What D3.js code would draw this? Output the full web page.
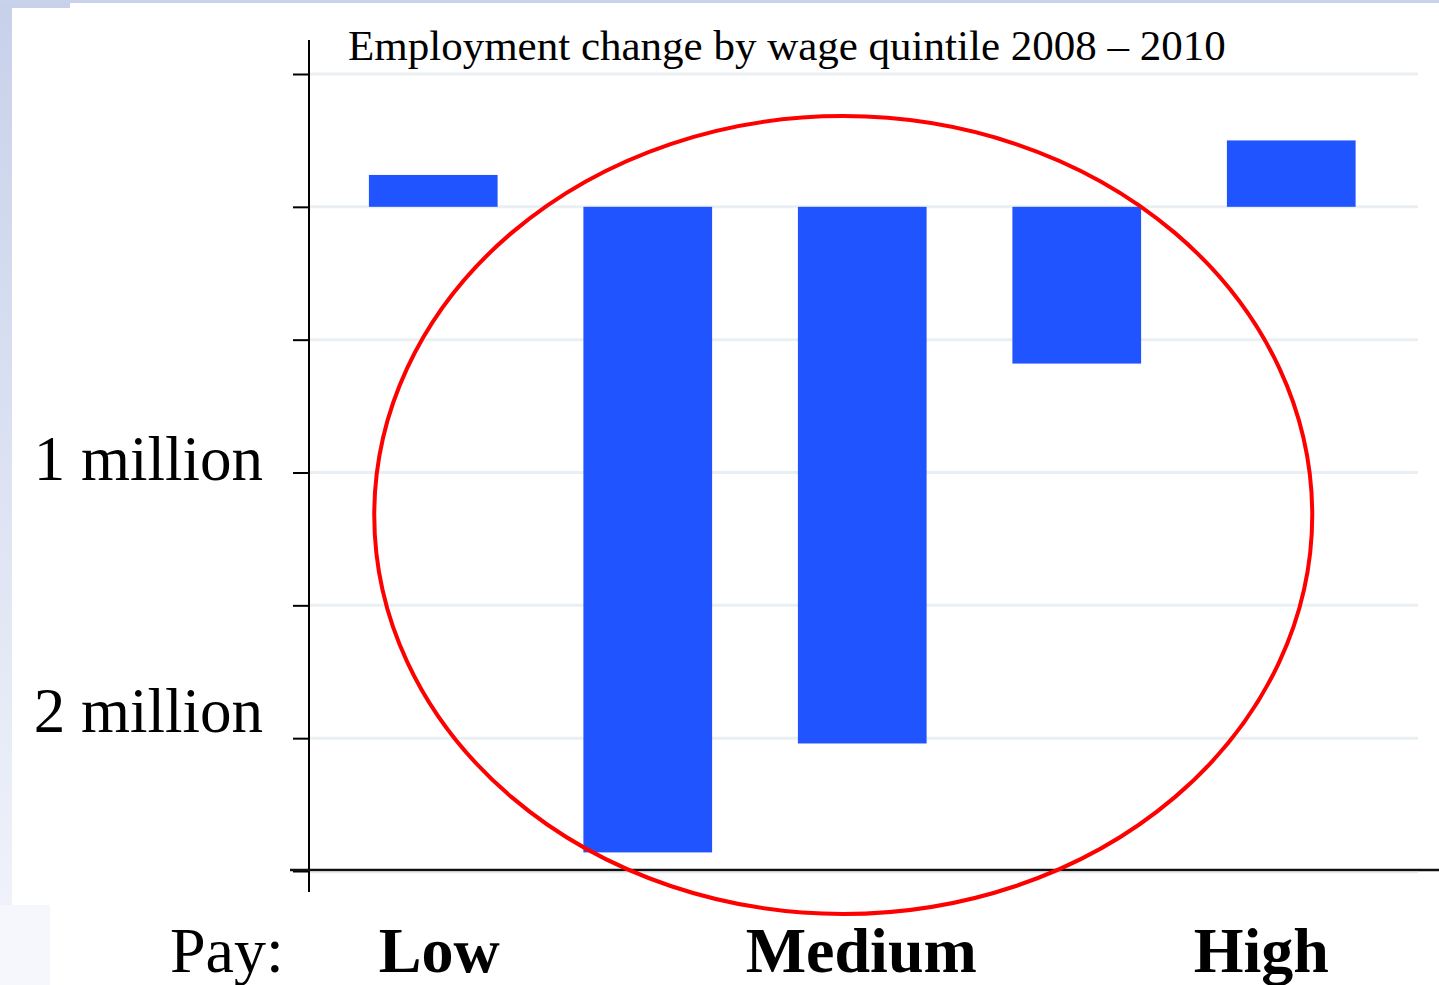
<!DOCTYPE html>
<html><head><meta charset="utf-8">
<script src="https://cdn.jsdelivr.net/npm/d3@7"></script>
<style>
html,body{margin:0;padding:0;background:#fff;overflow:hidden;}
svg{display:block;}
text{font-family:"Liberation Serif","Times New Roman",serif;fill:#000;}
</style></head>
<body>
<svg id="chart" width="1439" height="985"></svg>
<script>
// Data (millions of jobs)
const categories = ["Q1","Q2","Q3","Q4","Q5"];
const values = [0.12, -2.43, -2.02, -0.59, 0.25];
const yTicks = [-2.5, -2, -1.5, -1, -0.5, 0, 0.5];
const yTickLabels = {"-1": "1 million", "-2": "2 million"};
const payLabels = [{cat:"Q1", text:"Low"}, {cat:"Q3", text:"Medium"}, {cat:"Q5", text:"High"}];
const title = "Employment change by wage quintile 2008 \u2013 2010";

// layout tweaks (not data)
const tickLabelDy = {"-1": 7, "-2": -6};
const payLabelDx = {"Low": 6, "Medium": -1, "High": -30};

const svg = d3.select("#chart");

// slide background
const grad = svg.append("defs").append("linearGradient").attr("id","bg").attr("x1",0).attr("y1",0).attr("x2",0).attr("y2",1);
grad.append("stop").attr("offset","0%").attr("stop-color","#c7d1ea");
grad.append("stop").attr("offset","100%").attr("stop-color","#f3f5fb");
svg.append("rect").attr("x",0).attr("y",0).attr("width",1439).attr("height",985).attr("fill","url(#bg)");
svg.append("rect").attr("x",0).attr("y",0).attr("width",1439).attr("height",4).attr("fill","#c8d2ea");
svg.append("rect").attr("x",12).attr("y",8).attr("width",1427).attr("height",977).attr("fill","#fff");
svg.append("rect").attr("x",70).attr("y",3).attr("width",1369).attr("height",982).attr("fill","#fff");
svg.append("rect").attr("x",0).attr("y",905).attr("width",50).attr("height",80).attr("fill","#f6f7fc");
svg.append("rect").attr("x",50).attr("y",905).attr("width",1389).attr("height",80).attr("fill","#fff");

const x = d3.scaleBand().domain(categories).range([326, 1398.5]).paddingInner(0.4).paddingOuter(0.2);
const y = d3.scaleLinear().domain([-2.5, 0.5]).range([871, 74]);

// gridlines
svg.append("g").selectAll("line").data(yTicks.filter(d => d > -2.5)).join("line")
  .attr("x1", 310).attr("x2", 1418)
  .attr("y1", d => y(d)).attr("y2", d => y(d))
  .attr("stroke", "#e9eff2").attr("stroke-width", 3);

// bars
svg.append("g").selectAll("rect").data(values).join("rect")
  .attr("x", (d,i) => x(categories[i]))
  .attr("width", x.bandwidth())
  .attr("y", d => y(Math.max(0, d)))
  .attr("height", d => Math.abs(y(d) - y(0)))
  .attr("fill", "#1f54ff");

// y axis
const yAxis = d3.axisLeft(y).tickValues(yTicks).tickSize(16).tickFormat("");
const ga = svg.append("g").attr("transform","translate(309,0)").call(yAxis);
ga.select(".domain").remove();
ga.selectAll(".tick line").attr("stroke","#000").attr("stroke-width",2);
svg.append("line").attr("x1",309).attr("x2",309).attr("y1",40).attr("y2",892).attr("stroke","#000").attr("stroke-width",2);

// x axis line
svg.append("line").attr("x1",290).attr("x2",1439).attr("y1",y(-2.5)-1).attr("y2",y(-2.5)-1).attr("stroke","#111").attr("stroke-width",2.5);
svg.append("line").attr("x1",310).attr("x2",1418).attr("y1",y(-2.5)+1.5).attr("y2",y(-2.5)+1.5).attr("stroke","#e3eaef").attr("stroke-width",1.5);

// y tick labels
svg.append("g").selectAll("text").data(yTicks.filter(d => yTickLabels[d])).join("text")
  .attr("x", 263).attr("y", d => y(d) + tickLabelDy[d])
  .attr("text-anchor","end").attr("font-size", 63)
  .text(d => yTickLabels[d]);

// title
svg.append("text").attr("x", 348).attr("y", 60).attr("font-size", 43).text(title);

// pay labels
svg.append("text").attr("x", 170).attr("y", 972).attr("font-size", 64).text("Pay:");
svg.append("g").selectAll("text").data(payLabels).join("text")
  .attr("x", d => x(d.cat) + x.bandwidth()/2 + payLabelDx[d.text])
  .attr("y", 972).attr("text-anchor","middle")
  .attr("font-size", 64).attr("font-weight","bold")
  .text(d => d.text);

// annotation ellipse around the middle quintiles
svg.append("ellipse")
  .attr("cx", x("Q3") + x.bandwidth()/2 - 19)
  .attr("cy", y(-1.16))
  .attr("rx", 469).attr("ry", 399)
  .attr("fill","none").attr("stroke","#ff0000").attr("stroke-width",4);
</script>
</body></html>
